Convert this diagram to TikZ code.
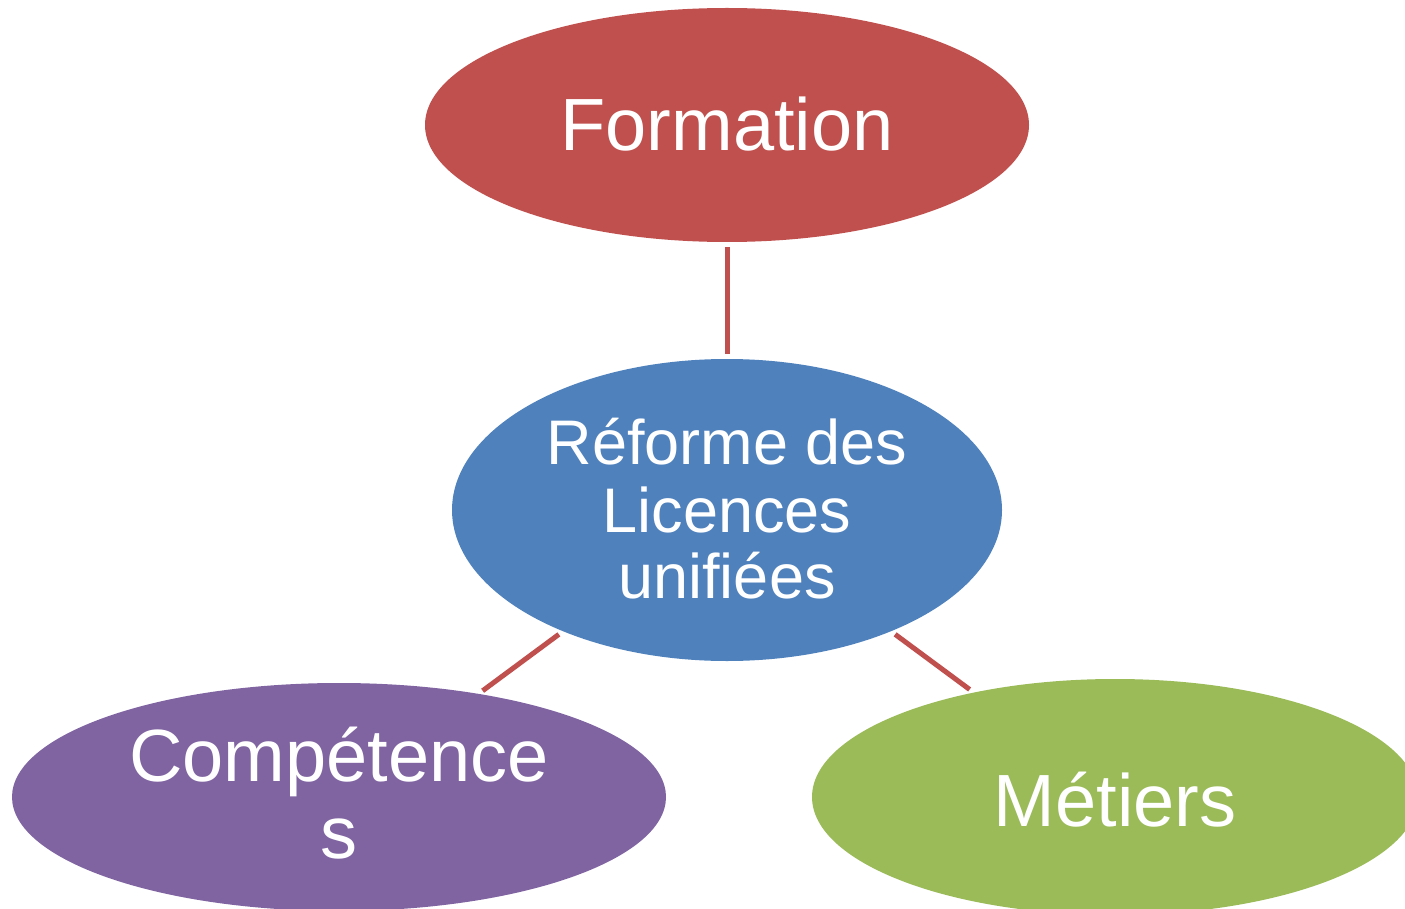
\documentclass[tikz,border=0pt]{standalone}
\usepackage{fontspec}
\setmainfont{Liberation Sans}
\usetikzlibrary{shapes.geometric}
\definecolor{cred}{HTML}{C0504D}
\definecolor{cblue}{HTML}{4F81BD}
\definecolor{cpurple}{HTML}{8064A2}
\definecolor{cgreen}{HTML}{9BBB59}
\tikzset{
  bubble/.style={ellipse, inner sep=0pt, text=white, align=center},
  link/.style={draw=cred, line width=5pt, shorten <=5pt, shorten >=5pt},
}
\begin{document}
\begin{tikzpicture}[x=1pt,y=-1pt]
\clip (0,0) rectangle (1405,909);
\useasboundingbox (0,0) rectangle (1405,909);
\node[bubble, fill=cred, minimum width=604pt, minimum height=234pt,
      font=\fontsize{74}{78}\selectfont] (formation) at (727,125) {\raisebox{1pt}[\height][\depth]{Formation}};
\node[bubble, fill=cblue, minimum width=550pt, minimum height=302pt,
      font=\fontsize{63}{66}\selectfont] (reforme) at (727,510) {\raisebox{2pt}[\height][\depth]{Réforme des}\\Licences\\unifiées};
\node[bubble, fill=cpurple, minimum width=654pt, minimum height=228pt,
      font=\fontsize{74}{77}\selectfont] (comp) at (339,797) {\raisebox{4pt}[\height][\depth]{Compétence}\\\raisebox{4pt}[\height][\depth]{s}};
\node[bubble, fill=cgreen, minimum width=606pt, minimum height=236pt,
      font=\fontsize{74}{78}\selectfont] (metiers) at (1115,797) {\raisebox{-3pt}[\height][\depth]{Métiers}};
\draw[link] (formation) -- (reforme);
\draw[link] (reforme) -- (comp);
\draw[link] (reforme) -- (metiers);
\end{tikzpicture}
\end{document}
